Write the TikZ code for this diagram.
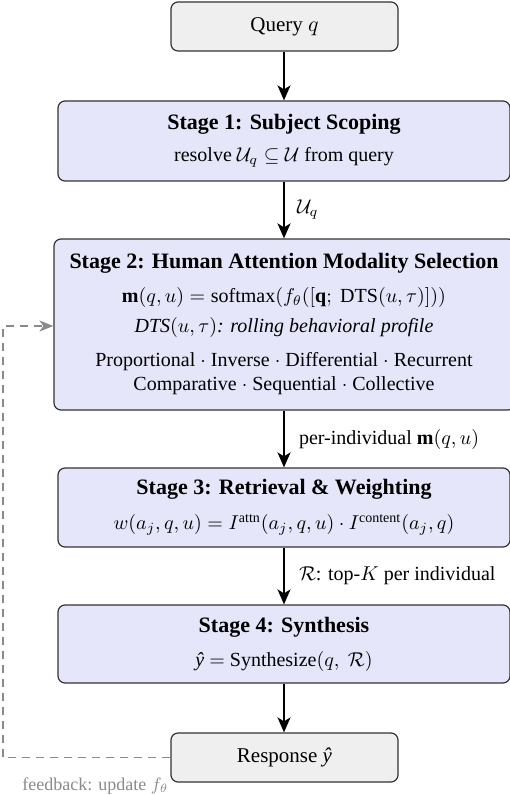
\documentclass[tikz,border=0pt]{standalone}
\usepackage{fontspec}
\setmainfont{Liberation Serif}
\usetikzlibrary{arrows.meta}
\definecolor{stagefill}{HTML}{E6E6FA}
\definecolor{iofill}{HTML}{EFEFEF}
\definecolor{edgec}{HTML}{333333}
\definecolor{fbc}{HTML}{8A8A8A}
\begin{document}
\begin{tikzpicture}[x=0.5pt,y=-0.5pt,
  every node/.style={font=\fontsize{10}{12}\selectfont},
  box/.style={draw=edgec,line width=0.6pt,rounded corners=3.5pt,inner sep=0pt},
  stagebox/.style={box,fill=stagefill},
  iobox/.style={box,fill=iofill},
  txt/.style={inner sep=0pt,anchor=center},
  ttl/.style={txt,font=\fontsize{11}{13}\selectfont\bfseries},
  lbl/.style={inner sep=0pt,anchor=west},
  arr/.style={line width=1pt,-{Stealth[length=7.5pt,width=6.5pt,inset=2pt]}},
  fb/.style={draw=fbc,line width=0.85pt,dash pattern=on 4pt off 3pt,-{Stealth[length=7pt,width=5.5pt,inset=2pt]}}]
\useasboundingbox (0,0) rectangle (509,795);
% boxes
\node[iobox,minimum width=113.5pt,minimum height=24.5pt] (q) at (284.5,26.5) {};
\node[stagebox,minimum width=226pt,minimum height=40pt] (s1) at (284,141) {};
\node[stagebox,minimum width=230.5pt,minimum height=85.5pt] (s2) at (284.5,324.5) {};
\node[stagebox,minimum width=226pt,minimum height=39.5pt] (s3) at (284,507.5) {};
\node[stagebox,minimum width=226pt,minimum height=39pt] (s4) at (284,644) {};
\node[iobox,minimum width=113.5pt,minimum height=24.5pt] (r) at (284.5,757.5) {};
% texts
\node[txt,font=\fontsize{10.5}{12.6}\selectfont] (qt) at (284.5,27) {Query $q$};
\node[ttl] (s1a) at (284,124) {Stage 1: Subject Scoping};
\node[txt] (s1b) at (284,157) {resolve $\mathcal{U}_q \subseteq \mathcal{U}$ from query};
\node[ttl] (s2a) at (284,263) {Stage 2: Human Attention Modality Selection};
\node[txt] (s2b) at (284,298) {$\mathbf{m}(q,u) = \mathrm{softmax}(f_\theta([\mathbf{q};\ \mathrm{DTS}(u,\tau)]))$};
\node[txt] (s2c) at (284,328) {\textit{DTS}$(u,\tau)$\textit{: rolling behavioral profile}};
\node[txt] (s2d) at (284,362) {Proportional $\cdot$ Inverse $\cdot$ Differential $\cdot$ Recurrent};
\node[txt] (s2e) at (284,386) {Comparative $\cdot$ Sequential $\cdot$ Collective};
\node[ttl] (s3a) at (284,489) {Stage 3: Retrieval \& Weighting};
\node[txt] (s3b) at (284,525) {$w(a_j,q,u) = I^{\mathrm{attn}}(a_j,q,u)\cdot I^{\mathrm{content}}(a_j,q)$};
\node[ttl] (s4a) at (284,627) {Stage 4: Synthesis};
\node[txt] (s4b) at (284,661) {\textit{ŷ} $=$ Synthesize$(q,\ \mathcal{R})$};
\node[txt,font=\fontsize{10.5}{12.6}\selectfont] (rt) at (284.5,757) {Response \textit{ŷ}};
% connectors
\draw[arr] (q.south -| s1.north) -- (s1.north);
\draw[arr] (s1.south) -- (s1.south |- s2.north) node[lbl,midway,xshift=6pt] (l1) {$\mathcal{U}_q$};
\draw[arr] (s1.south |- s2.south) -- (s1.south |- s3.north) node[lbl,midway,xshift=7pt] (l2) {per-individual $\mathbf{m}(q,u)$};
\draw[arr] (s3.south) -- (s4.north) node[lbl,midway,xshift=7pt] (l3) {$\mathcal{R}$: top-$K$ per individual};
\draw[arr] (s4.south) -- (s4.south |- r.north);
% feedback
\coordinate (fbc1) at (3,757.5);
\coordinate (fbc2) at (3,326);
\draw[fb] (r.west) -- (fbc1) -- (fbc2) -- (fbc2 -| s2.west);
\node[lbl,text=fbc,font=\fontsize{9}{11}\selectfont] (fbl) at (22,786) {feedback: update $f_\theta$};
\end{tikzpicture}
\end{document}
